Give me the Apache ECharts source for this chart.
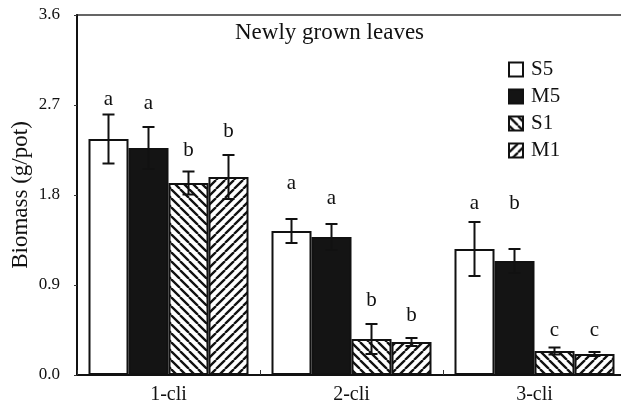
<!DOCTYPE html>
<html>
<head>
<meta charset="utf-8">
<script src="https://cdn.jsdelivr.net/npm/echarts@6/dist/echarts.min.js"></script>
<style>html,body{margin:0;padding:0;background:#fff}#c{width:621px;height:406px}</style>
</head>
<body>
<div id="c"></div>
<script>
const categories = ['1-cli', '2-cli', '3-cli'];
const seriesNames = ['S5', 'M5', 'S1', 'M1'];
const S5 = [2.36, 1.44, 1.26];
const M5 = [2.27, 1.38, 1.14];
const S1 = [1.92, 0.36, 0.24];
const M1 = [1.98, 0.33, 0.21];
const S5err = [0.245, 0.12, 0.27];
const M5err = [0.21, 0.13, 0.12];
const S1err = [0.115, 0.15, 0.035];
const M1err = [0.22, 0.04, 0.02];
const S5letters = ['a', 'a', 'a'];
const M5letters = ['a', 'a', 'b'];
const S1letters = ['b', 'b', 'c'];
const M1letters = ['b', 'b', 'c'];
const S5letterY = [2.76, 1.92, 1.72];
const M5letterY = [2.72, 1.77, 1.72];
const S1letterY = [2.25, 0.75, 0.45];
const M1letterY = [2.44, 0.60, 0.45];
const yTicks = [0, 0.9, 1.8, 2.7, 3.6];

const values = [S5, M5, S1, M1];
const errs = [S5err, M5err, S1err, M1err];
const letters = [S5letters, M5letters, S1letters, M1letters];
const letterYs = [S5letterY, M5letterY, S1letterY, M1letterY];

function stripe(dir) {
  const s = 9;
  const c = document.createElement('canvas');
  c.width = s; c.height = s;
  const g = c.getContext('2d');
  g.fillStyle = '#fff'; g.fillRect(0, 0, s, s);
  g.strokeStyle = '#111'; g.lineWidth = 2.3;
  g.beginPath();
  for (let k = -1; k <= 1; k++) {
    if (dir === 'back') { g.moveTo(k * s, 0); g.lineTo(k * s + s, s); }
    else { g.moveTo(k * s, s); g.lineTo(k * s + s, 0); }
  }
  g.stroke();
  return { image: c, repeat: 'repeat' };
}
const fills = ['#ffffff', '#141414', stripe('back'), stripe('fwd')];
const FONT = 'Liberation Serif';
const BW = 40;

const chart = echarts.init(document.getElementById('c'), null, { renderer: 'canvas' });
const series = [];
seriesNames.forEach((nm, i) => {
  series.push({
    name: nm, type: 'bar', data: values[i], barWidth: BW, barGap: '0%',
    itemStyle: { color: fills[i], borderColor: '#111', borderWidth: 2 },
    z: 2
  });
});
seriesNames.forEach((nm, i) => {
  series.push({
    type: 'custom', name: nm + '_err', z: 5, silent: true,
    data: categories.map((c, j) => [j, values[i][j], errs[i][j], letterYs[i][j]]),
    renderItem: function (params, api) {
      const j = api.value(0);
      const off = (i - 1.5) * BW;
      const top = api.coord([j, api.value(1) + api.value(2)]);
      const bot = api.coord([j, api.value(1) - api.value(2)]);
      const lt = api.coord([j, api.value(3)]);
      const x = top[0] + off;
      const st = { stroke: '#111', lineWidth: 2 };
      return {
        type: 'group', children: [
          { type: 'line', shape: { x1: x, y1: top[1], x2: x, y2: bot[1] }, style: st },
          { type: 'line', shape: { x1: x - 6, y1: top[1], x2: x + 6, y2: top[1] }, style: st },
          { type: 'line', shape: { x1: x - 6, y1: bot[1], x2: x + 6, y2: bot[1] }, style: st },
          { type: 'text', style: { text: letters[i][j], x: x, y: lt[1], align: 'center', verticalAlign: 'middle', font: '21px "' + FONT + '"', fill: '#111' } }
        ]
      };
    }
  });
});

chart.setOption({
  animation: false,
  backgroundColor: '#fff',
  textStyle: { fontFamily: FONT },
  title: {
    text: 'Newly grown leaves', left: 230, top: 16,
    textStyle: { fontFamily: FONT, fontSize: 23, fontWeight: 'normal', color: '#111' }
  },
  legend: {
    data: seriesNames, orient: 'vertical', left: 508, top: 59, padding: 0,
    itemWidth: 14, itemHeight: 14, itemGap: 6, icon: 'rect',
    itemStyle: { borderColor: '#111', borderWidth: 2 },
    textStyle: { fontFamily: FONT, fontSize: 21, color: '#111', padding: [0, 0, 0, 3] }
  },
  grid: { left: 77, right: -5, top: 15, bottom: 31, outerBoundsMode: 'none', containLabel: false, show: true, borderColor: '#333', borderWidth: 1.5, backgroundColor: 'transparent' },
  xAxis: {
    type: 'category', data: categories,
    axisLine: { lineStyle: { color: '#111', width: 2 } },
    axisTick: { show: true, inside: true, length: 5, lineStyle: { color: '#333' } },
    axisLabel: { fontFamily: FONT, fontSize: 20, color: '#111', margin: 10 }
  },
  yAxis: {
    type: 'value', min: yTicks[0], max: yTicks[yTicks.length - 1], interval: yTicks[1] - yTicks[0],
    name: 'Biomass (g/pot)', nameLocation: 'middle', nameGap: 45, nameMoveOverlap: false,
    nameTextStyle: { fontFamily: FONT, fontSize: 23, color: '#111' },
    axisLine: { show: true, lineStyle: { color: '#111', width: 2 } },
    axisTick: { show: true, length: 3, lineStyle: { color: '#333' } },
    splitLine: { show: false },
    axisLabel: { fontFamily: FONT, fontSize: 17, color: '#111', margin: 17, formatter: v => v.toFixed(1) }
  },
  series: series
});
</script>
</body>
</html>
